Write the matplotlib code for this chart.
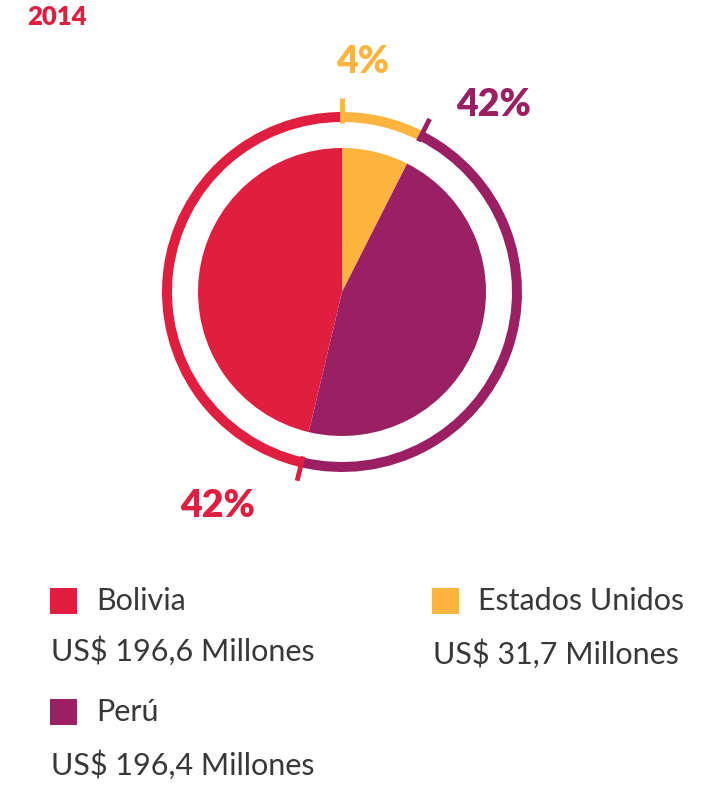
import numpy as np
import matplotlib
matplotlib.use("Agg")
import matplotlib.pyplot as plt

# Datos
paises = ["Estados Unidos", "Perú", "Bolivia"]
valores = [31.7, 196.4, 196.6]  # US$ millones
etiquetas_pct = ["4%", "42%", "42%"]
colores = ["#FDB43F", "#9B2063", "#E01E3F"]
titulo = "2014"

# Lienzo en coordenadas de pixel
W, H = 705, 786
fig = plt.figure(figsize=(W / 100, H / 100), dpi=100)
ax = fig.add_axes([0, 0, 1, 1])

cx, cy = 342, H - 292  # centro del grafico
r_pie = 144
r_anillo = 180
ancho_anillo = 10

# Torta interior
ax.pie(valores, colors=colores, startangle=90, counterclock=False,
       center=(cx, cy), radius=r_pie, wedgeprops=dict(linewidth=0))

# Anillo exterior
ax.pie(valores, colors=colores, startangle=90, counterclock=False,
       center=(cx, cy), radius=r_anillo,
       wedgeprops=dict(width=ancho_anillo, linewidth=0))

# Marcas al inicio de cada segmento
total = sum(valores)
acum = np.cumsum([0] + valores[:-1])
for a, c in zip(acum, colores):
    ang = np.deg2rad(90 - 360 * a / total)
    r0, r1 = r_anillo - ancho_anillo - 1, r_anillo + 14
    ax.plot([cx + r0 * np.cos(ang), cx + r1 * np.cos(ang)],
            [cy + r0 * np.sin(ang), cy + r1 * np.sin(ang)],
            color=c, lw=3.5, solid_capstyle="butt")

# Porcentajes
pos_pct = [(363, 62), (494, 105), (218, 506)]
for (x, y), t, c in zip(pos_pct, etiquetas_pct, colores):
    ax.text(x, H - y, t, color=c, fontsize=27, fontweight="heavy",
            family="Lato", ha="center", va="center")

# Titulo
ax.text(27, H - 17, titulo, color="#E01E3F", fontsize=18.5, fontweight="heavy",
        family="Lato", ha="left", va="center")

# Leyenda
gris = "#383838"
leyenda_pos = {"Bolivia": (50, 601, 651), "Estados Unidos": (432, 601, 654), "Perú": (50, 712, 765)}
for p, v, c in zip(paises, valores, colores):
    x, y1, y2 = leyenda_pos[p]
    ax.add_patch(plt.Rectangle((x, H - y1 - 13), 27, 26, color=c, lw=0))
    ax.text(x + 46, H - y1, p, color=gris, fontsize=22, family="Lato",
            ha="left", va="center")
    ax.text(x + 1, H - y2, f"US$ {v:.1f} Millones".replace(".", ","), color=gris,
            fontsize=22, family="Lato", ha="left", va="center")

ax.set_xlim(0, W)
ax.set_ylim(0, H)
ax.set_aspect("equal")
ax.axis("off")

fig.savefig("out.png", dpi=100)
